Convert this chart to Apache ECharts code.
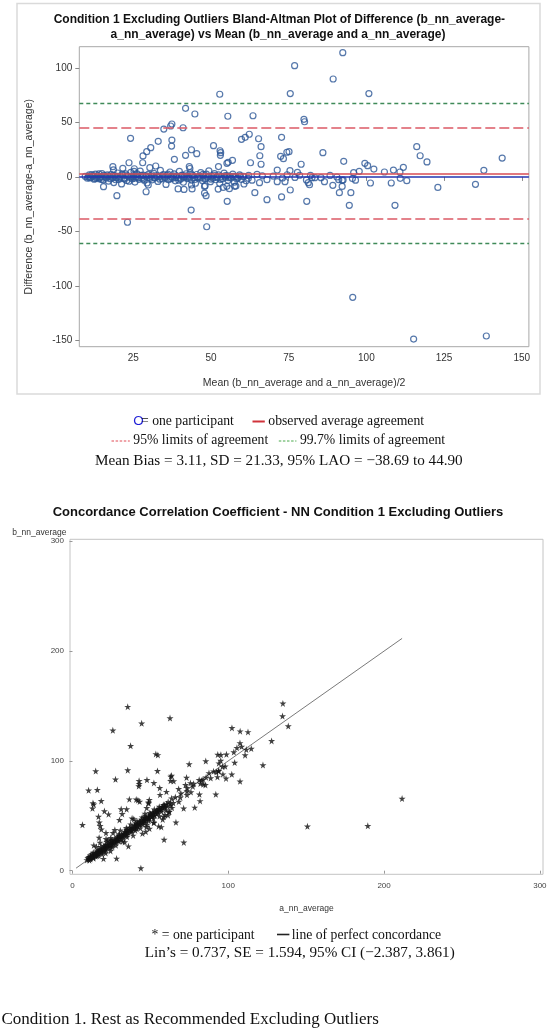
<!DOCTYPE html>
<html>
<head>
<meta charset="utf-8">
<script src="https://cdn.jsdelivr.net/npm/echarts@6/dist/echarts.min.js"></script>
<style>
html,body{margin:0;padding:0;background:#fff;}
#c{width:550px;height:1031px;}
</style>
</head>
<body>
<div id="c"></div>
<script>
// ---------- DATA ----------
// Bland-Altman readings: [mean of (b,a), difference b - a]
const outlierPairs = [
  [92.4,113.9],[76.9,102.0],[89.3,89.8],[52.8,75.8],[75.5,76.4],[100.8,76.4],
  [41.8,62.9],[44.8,57.7],[55.4,55.6],[63.5,56.1],[79.9,52.8],[80.1,50.6],
  [34.8,43.9],[37.4,48.5],[37.0,46.7],[41.0,45.1],[24.1,35.4],[33.0,32.6],
  [37.4,33.8],[37.3,28.3],[30.6,26.8],[29.3,23.1],[28.1,19.2],[28.0,13.0],
  [23.6,13.0],[21.6,7.9],[18.4,9.4],[38.2,16.1],[41.8,19.8],[43.7,24.9],
  [45.4,21.3],[50.8,28.6],[52.9,24.0],[53.1,22.2],[53.0,19.8],[55.5,13.4],
  [56.9,15.2],[59.8,34.5],[61.0,36.3],[62.3,39.1],[65.3,35.0],[66.1,27.7],
  [65.7,19.4],[66.1,11.6],[62.7,13.0],[72.7,36.3],[72.4,18.9],[73.3,16.7],
  [74.4,22.6],[75.1,23.1],[71.3,6.3],[79.0,11.6],[86.0,22.2],[92.7,14.3],
  [95.9,3.9],[97.7,5.1],[99.5,12.5],[100.4,10.3],[102.4,7.2],[105.8,4.5],
  [108.7,6.3],[111.9,8.8],[110.8,4.5],[116.2,27.7],[117.3,19.4],[119.5,13.7],
  [137.8,6.0],[143.7,17.3],[75.4,5.7],[77.8,4.2],[82.0,1.4],[82.5,-0.7],
  [83.4,-0.7],[85.4,-0.7],[86.5,-4.4],[88.3,1.4],[90.5,-0.1],[91.1,-2.5],
  [92.2,-3.1],[92.2,-8.7],[110.9,-1.3],[18.6,6.5],[25.3,7.5],[25.2,5.0],
  [43.0,9.5],[43.2,7.7],[30.3,8.5],[32.2,10.0],[52.4,9.5],[55.1,12.5],
  [135.1,-6.8],[123.0,-9.6],[113.0,-3.5],[108.0,-5.6],[101.3,-5.6],[95.0,-14.5],
  [91.3,-14.5],[89.2,-7.7],[92.5,-2.8],[81.3,-5.3],[80.7,-2.8],[75.5,-12.0],
  [71.3,-4.4],[73.8,-4.4],[65.6,-5.3],[64.1,-14.5],[62.0,-1.3],[19.7,-17.2],
  [29.1,-13.6],[23.1,-41.6],[43.6,-30.4],[48.6,-45.7],[48.4,-17.2],[55.2,-22.4],
  [68.0,-20.9],[72.7,-18.4],[80.8,-22.4],[94.5,-26.1],[109.2,-26.1],[95.6,-110.4],
  [115.2,-148.7],[138.6,-145.9],[41.3,-11.5],[43.9,-11.0],[52.3,-11.2],[55.9,-10.8],
  [81.7,-7.2],[47.9,-14.8],[47.9,-8.7],[15.4,-9.0],[39.4,-11.0],[43.7,-7.4],
  [53.9,-9.6],[57.6,-8.6],[29.8,-7.4],[48.1,-8.1],[55.1,-8.6],[58.0,-8.4],
  [66.5,1.0],[68.0,-2.5],[70.0,0.8],[73.0,-1.0],[74.5,2.0],[77.0,-0.5],
  [78.5,1.5],[63.2,-3.0],[64.8,2.4],[60.6,-6.5],[95.5,-1.5],[96.5,-3.0]
];
const clusterPairs = [
  [9.5,0.5],[10.2,-1.2],[10.8,1.8],[11.3,-0.4],[11.9,0.9],[12.4,-2.1],[12.8,2.6],[13.1,-0.8],
  [13.6,1.2],[14.0,-1.6],[14.5,0.3],[14.9,3.1],[15.3,-2.8],[15.8,0.7],[16.1,-0.2],[16.6,1.9],
  [17.0,-3.9],[17.4,0.4],[17.9,2.3],[18.2,-1.1],[18.7,-5.2],[19.1,1.0],[19.5,-0.6],[19.9,3.6],
  [20.3,-2.4],[20.8,0.2],[21.2,-6.4],[21.6,1.5],[22.0,-1.0],[22.5,2.8],[22.9,-3.3],[23.3,0.6],
  [23.8,-0.3],[24.2,4.2],[24.6,-1.8],[25.1,1.1],[25.5,-4.7],[25.9,0.0],[26.4,2.0],[26.8,-2.2],
  [27.2,5.3],[27.7,-0.9],[28.1,1.6],[28.5,-3.0],[29.0,0.5],[29.4,-5.6],[29.8,2.4],[30.3,-1.4],
  [30.7,0.8],[31.1,-2.7],[31.6,3.3],[32.0,-0.5],[32.4,1.3],[32.9,-4.1],[33.3,0.1],[33.7,6.0],
  [34.2,-1.7],[34.6,2.1],[35.0,-0.2],[35.5,-6.9],[35.9,1.4],[36.3,-2.5],[36.8,4.5],[37.2,0.3],
  [37.6,-1.2],[38.1,2.7],[38.5,-3.6],[38.9,0.9],[39.4,-0.8],[39.8,5.0],[40.2,-2.0],[40.7,1.7],
  [41.1,-4.9],[41.5,0.4],[42.0,2.9],[42.4,-1.5],[42.8,0.0],[43.3,3.8],[43.7,-2.9],[44.1,1.1],
  [44.6,-0.6],[45.0,-5.8],[45.4,2.2],[45.9,-1.0],[46.3,0.6],[46.7,4.0],[47.2,-3.4],[47.6,1.0],
  [48.0,-1.9],[48.5,2.5],[48.9,-0.3],[49.3,5.6],[49.8,-4.4],[50.2,0.8],[50.6,-1.3],[51.1,3.0],
  [51.5,-2.6],[52.0,0.2],[52.4,1.9],[52.8,-6.1],[53.3,0.5],[53.7,-1.6],[54.2,3.4],[54.6,-0.4],
  [55.0,1.2],[55.5,-3.1],[56.0,0.7],[56.5,-1.1],[57.0,2.6],[57.5,-4.8],[58.0,0.3],[58.6,-0.9],
  [59.2,1.8],[59.8,-2.3],[60.5,0.4],[61.3,-3.6],[62.1,1.4],
  [10.5,0.2],[11.0,-0.9],[11.6,2.2],[12.1,0.8],[12.6,-1.5],[13.3,0.1],[13.9,2.7],[14.3,-0.5],
  [14.7,-2.3],[15.5,1.4],[16.3,-1.0],[16.9,0.9],[17.6,-1.7],[18.4,1.3],[19.3,-2.6],[20.0,0.6],
  [20.6,-0.9],[21.4,2.6],[22.2,-1.9],[23.0,1.2],[23.6,-4.0],[24.4,0.2],[25.3,-1.3],[26.1,3.0],
  [26.6,-0.7],[27.4,1.4],[28.3,-2.0],[29.2,0.9],[30.0,-0.4],[30.9,2.0],[31.8,-1.0],[32.7,0.3],
  [33.5,-2.1],[34.4,1.0],[35.3,-0.6],[36.1,2.5],[37.0,-1.6],[37.9,0.8],[38.7,-0.4],[39.6,-3.0],
  [40.5,1.3],[41.3,-0.7],[42.2,0.9],[43.0,-1.2],[43.9,2.0],[44.8,-2.4],[45.7,0.0],[46.5,-0.9],
  [47.4,2.4],[48.3,-1.4],[49.1,0.6],[50.0,-2.0],[50.9,1.5],[51.8,-0.5],[53.0,-2.2],[54.4,0.9],
  [55.8,-0.7],[57.2,0.4],[58.3,-1.8],[59.5,0.8]
];

// Reference lines (Bland-Altman)
const meanBias = 3.11;
const limits95 = [-38.69, 44.90];
const limits997 = [-60.88, 67.10];
const zeroLine = 0;

// Tick labels
const topXTicks = [25, 50, 75, 100, 125, 150];
const topYTicks = [-150, -100, -50, 0, 50, 100];
const botTicks = [0, 100, 200, 300];

// ---------- derived series ----------
const baPairs = outlierPairs.concat(clusterPairs);
// a = mean - diff/2, b = mean + diff/2  (back to the original measurements)
const abPairs = baPairs.map(p => [+(p[0] - p[1] / 2).toFixed(2), +(p[0] + p[1] / 2).toFixed(2)]);
let lo = Infinity, hi = -Infinity;
abPairs.forEach(p => { lo = Math.min(lo, p[0], p[1]); hi = Math.max(hi, p[0], p[1]); });
const concordLine = [[lo, lo], [hi, hi]];

const SANS = '"Liberation Sans", Arial, sans-serif';
const SERIF = '"Liberation Serif", "Times New Roman", serif';

const chart = echarts.init(document.getElementById('c'), null, {renderer: 'canvas'});

function txt(x, y, text, font, fill, align) {
  return {type: 'text', x: x, y: y, silent: true, z: 100,
    style: {text: text, font: font, fill: fill || '#000', textAlign: align || 'center', textVerticalAlign: 'middle'}};
}

const LEG = '13.7px ' + SERIF;
const STAT = '15.2px ' + SERIF;

const option = {
  animation: false,
  backgroundColor: '#ffffff',
  grid: [
    {left: 79.3, top: 46.7, width: 449.6, height: 300, show: true, borderColor: '#a8a8a8', borderWidth: 1, backgroundColor: 'transparent'},
    {left: 70, top: 539.3, width: 473, height: 335, show: true, borderColor: '#c4c4c4', borderWidth: 1, backgroundColor: 'transparent'}
  ],
  xAxis: [
    {gridIndex: 0, type: 'value', min: 7.6, max: 152.3,
     axisLine: {show: false}, splitLine: {show: false},
     axisTick: {show: true, customValues: topXTicks, length: 4, lineStyle: {color: '#888'}},
     axisLabel: {customValues: topXTicks, margin: 7, fontSize: 10, color: '#333', fontFamily: SANS},
     name: 'Mean (b_nn_average and a_nn_average)/2', nameLocation: 'middle', nameGap: 31,
     nameTextStyle: {fontSize: 10.5, color: '#333', fontFamily: SANS}},
    {gridIndex: 1, type: 'value', min: -1.6, max: 302,
     axisLine: {show: false}, splitLine: {show: false},
     axisTick: {show: true, customValues: botTicks, length: 3, lineStyle: {color: '#999'}},
     axisLabel: {customValues: botTicks, margin: 7, fontSize: 8, color: '#444', fontFamily: SANS},
     name: 'a_nn_average', nameLocation: 'middle', nameGap: 30,
     nameTextStyle: {fontSize: 8.5, color: '#333', fontFamily: SANS}}
  ],
  yAxis: [
    {gridIndex: 0, type: 'value', min: -155.7, max: 119.4,
     axisLine: {show: false}, splitLine: {show: false},
     axisTick: {show: true, customValues: topYTicks, length: 4, lineStyle: {color: '#888'}},
     axisLabel: {customValues: topYTicks, margin: 7, fontSize: 10, color: '#333', fontFamily: SANS},
     name: 'Difference (b_nn_average-a_nn_average)', nameLocation: 'middle', nameGap: 45, nameRotate: 90,
     nameTextStyle: {fontSize: 10.5, color: '#333', fontFamily: SANS}},
    {gridIndex: 1, type: 'value', min: -3.3, max: 301.8,
     axisLine: {show: false}, splitLine: {show: false},
     axisTick: {show: true, customValues: botTicks, length: 3, lineStyle: {color: '#999'}},
     axisLabel: {customValues: botTicks, margin: 6, fontSize: 8, color: '#444', fontFamily: SANS},
     name: 'b_nn_average', nameLocation: 'end', nameGap: 6,
     nameTextStyle: {fontSize: 8.5, color: '#333', fontFamily: SANS, align: 'right', verticalAlign: 'middle', padding: [0, 6, 0, 0]}}
  ],
  series: [
    {type: 'scatter', xAxisIndex: 0, yAxisIndex: 0, data: baPairs, symbol: 'circle', symbolSize: 6, z: 2,
     itemStyle: {color: 'rgba(0,0,0,0)', borderColor: '#2c5696', borderWidth: 1.2},
     markLine: {silent: true, symbol: ['none', 'none'], label: {show: false}, z: 5,
       data: [
         {yAxis: zeroLine, lineStyle: {color: '#2336b0', width: 1.5, type: 'solid'}},
         {yAxis: meanBias, lineStyle: {color: '#d94c55', width: 1.5, type: 'solid'}},
         {yAxis: limits95[0], lineStyle: {color: '#dc5a66', width: 1.6, type: [10, 4]}},
         {yAxis: limits95[1], lineStyle: {color: '#dc5a66', width: 1.6, type: [10, 4]}},
         {yAxis: limits997[0], lineStyle: {color: '#3f8a58', width: 1.4, type: [4, 3]}},
         {yAxis: limits997[1], lineStyle: {color: '#3f8a58', width: 1.4, type: [4, 3]}}
       ]}},
    {type: 'scatter', xAxisIndex: 1, yAxisIndex: 1, data: abPairs, z: 3,
     symbol: 'path://M50,0 L61,35 L98,35 L68,57 L79,91 L50,70 L21,91 L32,57 L2,35 L39,35 Z',
     symbolSize: 7, itemStyle: {color: '#111'}},
    {type: 'line', xAxisIndex: 1, yAxisIndex: 1, data: concordLine, symbol: 'none', z: 2, silent: true,
     lineStyle: {color: '#7a7a7a', width: 1}}
  ],
  graphic: [
    {type: 'rect', shape: {x: 17, y: 3.5, width: 523, height: 390.5}, silent: true, z: 0,
     style: {fill: 'none', stroke: '#dadada', lineWidth: 1.5}},
    txt(279.4, 20, 'Condition 1 Excluding Outliers Bland-Altman Plot of Difference (b_nn_average-', 'bold 12px ' + SANS, '#111'),
    txt(278, 34.3, 'a_nn_average) vs Mean (b_nn_average and a_nn_average)', 'bold 12px ' + SANS, '#111'),
    // legend 1
    txt(133.3, 421, 'O', '13.5px ' + SANS, '#1f1fd6', 'left'),
    txt(141, 421.7, '= one participant', LEG, '#111', 'left'),
    {type: 'line', shape: {x1: 252.5, y1: 421.5, x2: 264.8, y2: 421.5}, silent: true, style: {stroke: '#d0333a', lineWidth: 2}},
    txt(268.3, 421.7, 'observed average agreement', LEG, '#111', 'left'),
    {type: 'line', shape: {x1: 111.5, y1: 441, x2: 129.8, y2: 441}, silent: true, style: {stroke: '#e04a55', lineWidth: 1, lineDash: [2.5, 1.6]}},
    txt(133.3, 440.3, '95% limits of agreement', LEG, '#111', 'left'),
    {type: 'line', shape: {x1: 278.8, y1: 441, x2: 296.4, y2: 441}, silent: true, style: {stroke: '#48a84a', lineWidth: 1, lineDash: [2.5, 1.6]}},
    txt(299.9, 440.3, '99.7% limits of agreement', LEG, '#111', 'left'),
    txt(278.8, 461, 'Mean Bias = 3.11, SD = 21.33, 95% LAO = \u221238.69 to 44.90', STAT, '#111'),
    // bottom chart
    txt(278, 512.7, 'Concordance Correlation Coefficient - NN Condition 1 Excluding Outliers', 'bold 13px ' + SANS, '#111'),
    txt(151.5, 935, '* = one participant', LEG, '#111', 'left'),
    {type: 'line', shape: {x1: 277, y1: 934.5, x2: 289.4, y2: 934.5}, silent: true, style: {stroke: '#222', lineWidth: 1.6}},
    txt(291.8, 935, 'line of perfect concordance', LEG, '#111', 'left'),
    txt(299.7, 953.3, 'Lin\u2019s = 0.737, SE = 1.594, 95% CI (\u22122.387, 3.861)', STAT, '#111'),
    txt(1.5, 1020, 'Condition 1. Rest as Recommended Excluding Outliers', '17px ' + SERIF, '#111', 'left')
  ]
};
chart.setOption(option);
</script>
</body>
</html>
